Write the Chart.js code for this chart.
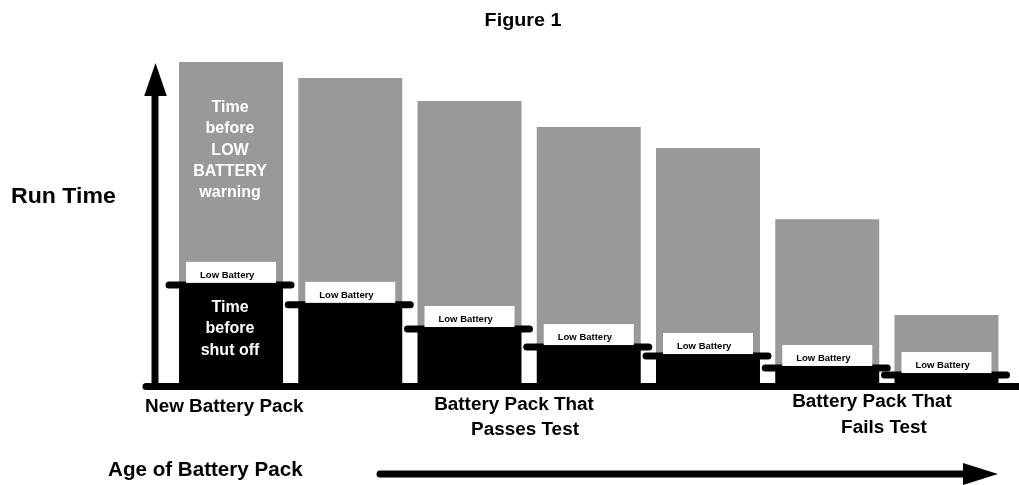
<!DOCTYPE html>
<html>
<head>
<meta charset="utf-8">
<script src="https://cdn.jsdelivr.net/npm/chart.js@4/dist/chart.umd.min.js"></script>
<style>
  html, body { margin: 0; padding: 0; background: #ffffff; }
  #wrap { width: 1019px; height: 485px; position: relative; }
</style>
</head>
<body>
<div id="wrap"><canvas id="c" width="1019" height="485"></canvas></div>
<script>
// ---- Data (arbitrary run-time units, first pack total = 100) ----
const categories = ['Pack 1', 'Pack 2', 'Pack 3', 'Pack 4', 'Pack 5', 'Pack 6', 'Pack 7'];
// time before shut off (black part)
const shutOffTime = [31.4, 25.2, 17.7, 12.1, 9.3, 5.6, 3.4];
// time before LOW BATTERY warning (gray part, stacked on top)
const warningTime = [68.6, 69.8, 70.2, 67.7, 64.0, 45.6, 18.0];
const lowBatteryLabel = 'Low Battery';
const titleText = 'Figure 1';
const yAxisTitle = 'Run Time';
const xAxisTitle = 'Age of Battery Pack';
const grayLabelLines = ['Time', 'before', 'LOW', 'BATTERY', 'warning'];
const blackLabelLines = ['Time', 'before', 'shut off'];
const groupLabelNew = ['New Battery Pack'];
const groupLabelPass = ['Battery Pack That', 'Passes Test'];
const groupLabelFail = ['Battery Pack That', 'Fails Test'];

const FONT = "'Liberation Sans', Arial, Helvetica, sans-serif";

function txt(ctx, s, x, y, size, align, color, sx) {
  ctx.save();
  ctx.font = 'bold ' + size + 'px ' + FONT;
  ctx.fillStyle = color;
  ctx.textBaseline = 'alphabetic';
  ctx.textAlign = align;
  ctx.translate(x, y);
  ctx.scale(sx || 1, 1);
  ctx.fillText(s, 0, 0);
  ctx.restore();
}

const decor = {
  id: 'decor',
  afterDatasetsDraw(chart) {
    const ctx = chart.ctx;
    const yScale = chart.scales.y;
    const blackMeta = chart.getDatasetMeta(0);
    const grayMeta = chart.getDatasetMeta(1);
    const zeroY = yScale.getPixelForValue(0);

    // thick ledges + Low Battery boxes
    blackMeta.data.forEach((bar, i) => {
      const left = bar.x - bar.width / 2;
      const right = bar.x + bar.width / 2;
      const top = bar.y;
      ctx.save();
      ctx.strokeStyle = '#000';
      ctx.lineWidth = 7;
      ctx.lineCap = 'round';
      ctx.beginPath();
      ctx.moveTo(left - 10, top + 2);
      ctx.lineTo(right + 8, top + 2);
      ctx.stroke();
      ctx.restore();
      const bx = left + 7, bw = 90, bh = 21;
      ctx.fillStyle = '#ffffff';
      ctx.fillRect(bx, top - bh, bw, bh);
      txt(ctx, lowBatteryLabel, bx + 14, top - 5, 9.5, 'left', '#000', 1);
    });

    // labels inside first bar
    const g0 = grayMeta.data[0];
    const b0 = blackMeta.data[0];
    grayLabelLines.forEach((s, k) => {
      txt(ctx, s, g0.x - 1, g0.y + 50 + k * 21.3, 16, 'center', '#ffffff', 1);
    });
    blackLabelLines.forEach((s, k) => {
      txt(ctx, s, b0.x - 1, b0.y + 29 + k * 21.5, 16, 'center', '#ffffff', 1);
    });

    // baseline axis (extends to the right edge)
    ctx.save();
    ctx.strokeStyle = '#000';
    ctx.lineWidth = 7;
    ctx.lineCap = 'round';
    ctx.beginPath();
    ctx.moveTo(146, zeroY + 2.5);
    ctx.lineTo(1030, zeroY + 2.5);
    ctx.stroke();
    // vertical arrow
    ctx.lineCap = 'butt';
    ctx.beginPath();
    ctx.moveTo(155, zeroY + 2);
    ctx.lineTo(155, 92);
    ctx.stroke();
    ctx.fillStyle = '#000';
    ctx.beginPath();
    ctx.moveTo(155.5, 63);
    ctx.lineTo(166.8, 96);
    ctx.lineTo(144.2, 96);
    ctx.closePath();
    ctx.fill();
    // horizontal arrow (age)
    ctx.lineCap = 'round';
    ctx.beginPath();
    ctx.moveTo(380, 474);
    ctx.lineTo(966, 474);
    ctx.stroke();
    ctx.beginPath();
    ctx.moveTo(963, 463);
    ctx.lineTo(998, 474);
    ctx.lineTo(963, 485);
    ctx.closePath();
    ctx.fill();
    ctx.restore();

    // texts
    txt(ctx, titleText, 523, 26, 19, 'center', '#000', 1.04);
    txt(ctx, yAxisTitle, 11, 203, 22, 'left', '#000', 1.05);
    txt(ctx, groupLabelNew[0], 145, 412, 18, 'left', '#000', 1.05);
    txt(ctx, groupLabelPass[0], 514, 410, 18, 'center', '#000', 1.05);
    txt(ctx, groupLabelPass[1], 525, 435, 18, 'center', '#000', 1.05);
    txt(ctx, groupLabelFail[0], 872, 407, 18, 'center', '#000', 1.05);
    txt(ctx, groupLabelFail[1], 884, 433, 18, 'center', '#000', 1.05);
    txt(ctx, xAxisTitle, 108, 476, 20, 'left', '#000', 1.03);
  }
};

new Chart(document.getElementById('c'), {
  type: 'bar',
  data: {
    labels: categories,
    datasets: [
      { label: 'Time before shut off', data: shutOffTime, backgroundColor: '#000000', borderWidth: 0,
        categoryPercentage: 1.0, barPercentage: 0.872 },
      { label: 'Time before LOW BATTERY warning', data: warningTime, backgroundColor: '#999999', borderWidth: 0,
        categoryPercentage: 1.0, barPercentage: 0.872 }
    ]
  },
  options: {
    responsive: false,
    devicePixelRatio: 1,
    animation: false,
    layout: { padding: { left: 171.4, right: 12.9, top: 62, bottom: 101 } },
    plugins: { legend: { display: false }, tooltip: { enabled: false }, title: { display: false } },
    scales: {
      x: { stacked: true, display: false, grid: { display: false } },
      y: { stacked: true, display: false, min: 0, max: 100, grid: { display: false } }
    }
  },
  plugins: [decor]
});
</script>
</body>
</html>
